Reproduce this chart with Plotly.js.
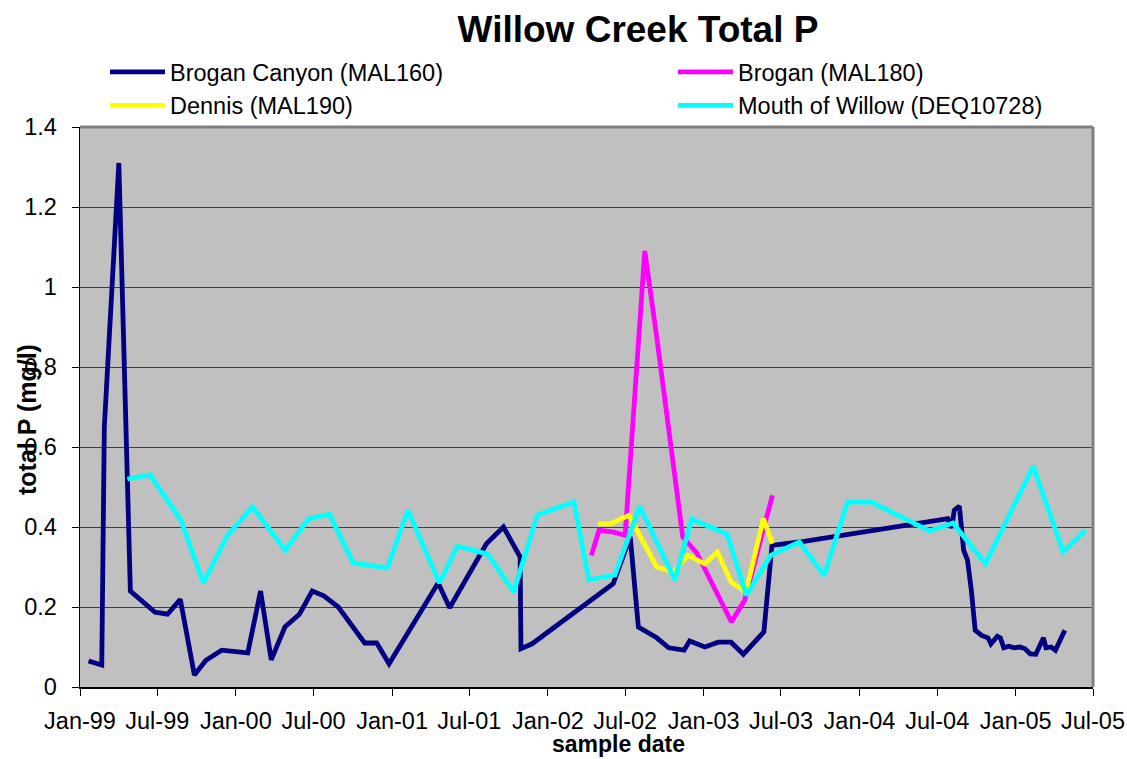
<!DOCTYPE html>
<html>
<head>
<meta charset="utf-8">
<script src="https://cdn.plot.ly/plotly-3.0.1.min.js"></script>
<style>html,body{margin:0;padding:0;background:#fff;}#chart{width:1127px;height:759px;}</style>
</head>
<body>
<div id="chart"></div>
<script>
// Brogan Canyon (MAL160)
const broganCanyonDates = ['1999-01-21','1999-02-21','1999-02-27','1999-04-02','1999-04-29','1999-06-26','1999-07-25','1999-08-24','1999-09-26','1999-10-23','1999-11-29','2000-01-29','2000-02-28','2000-03-24','2000-04-25','2000-05-29','2000-06-28','2000-07-25','2000-08-28','2000-10-29','2000-11-26','2000-12-25','2001-04-19','2001-05-16','2001-08-10','2001-09-19','2001-10-28','2001-10-30','2001-11-25','2002-06-03','2002-07-13','2002-08-01','2002-09-13','2002-10-11','2002-11-16','2002-11-29','2003-01-04','2003-02-04','2003-03-06','2003-04-04','2003-05-22','2003-06-10','2003-08-13','2004-07-26','2004-08-04','2004-08-10','2004-08-22','2004-09-01','2004-09-10','2004-09-19','2004-09-28','2004-10-13','2004-10-28','2004-11-04','2004-11-19','2004-11-26','2004-12-04','2004-12-16','2004-12-28','2005-01-11','2005-01-22','2005-02-04','2005-02-17','2005-02-25','2005-03-07','2005-03-13','2005-03-25','2005-04-04','2005-04-16','2005-04-26'];
const broganCanyonP = [0.065,0.055,0.65,1.31,0.24,0.187,0.182,0.219,0.03,0.067,0.092,0.085,0.24,0.068,0.15,0.182,0.24,0.228,0.2,0.11,0.11,0.058,0.26,0.198,0.358,0.4,0.325,0.096,0.108,0.258,0.375,0.15,0.123,0.098,0.092,0.115,0.1,0.112,0.112,0.082,0.1375,0.354,0.3625,0.421,0.398,0.442,0.452,0.342,0.317,0.242,0.142,0.129,0.123,0.108,0.127,0.123,0.098,0.102,0.098,0.1,0.096,0.083,0.082,0.102,0.123,0.098,0.1,0.092,0.123,0.142];

// Brogan (MAL180)
const broganDates = ['2002-04-13','2002-05-01','2002-06-03','2002-07-01','2002-08-16','2002-09-13','2002-11-13','2002-12-16','2003-03-07','2003-04-07','2003-06-11'];
const broganP = [0.329,0.392,0.3875,0.379,1.09,0.875,0.375,0.335,0.1625,0.217,0.479];

// Dennis (MAL190)
const dennisDates = ['2002-04-29','2002-05-28','2002-07-10','2002-09-13','2002-10-22','2002-11-25','2003-01-04','2003-02-02','2003-03-06','2003-04-10','2003-05-21','2003-06-11'];
const dennisP = [0.408,0.408,0.429,0.3,0.2875,0.329,0.308,0.3375,0.2625,0.2375,0.421,0.358];

// Mouth of Willow (DEQ10728)
const mouthDates = ['1999-04-22','1999-06-14','1999-08-25','1999-10-17','1999-12-13','2000-02-09','2000-04-26','2000-06-19','2000-08-07','2000-10-02','2000-12-21','2001-02-07','2001-04-22','2001-06-03','2001-08-13','2001-10-13','2001-12-07','2002-03-03','2002-04-07','2002-06-07','2002-08-04','2002-10-25','2002-12-04','2003-02-25','2003-04-11','2003-06-07','2003-08-13','2003-10-10','2003-12-04','2004-01-28','2004-06-13','2004-08-07','2004-10-22','2005-02-11','2005-04-22','2005-06-13'];
const mouthP = [0.52,0.53,0.418,0.26,0.38,0.45,0.342,0.42,0.432,0.31,0.298,0.442,0.26,0.352,0.332,0.2375,0.43,0.4625,0.268,0.28,0.452,0.268,0.42,0.382,0.229,0.329,0.3625,0.279,0.4625,0.4625,0.39,0.41,0.308,0.552,0.3375,0.392];

const seriesNames = ['Brogan Canyon (MAL160)','Brogan (MAL180)','Dennis (MAL190)','Mouth of Willow (DEQ10728)'];
const seriesColors = ['#000080','#FF00FF','#FFFF00','#00FFFF'];
const seriesLegend = ['legend','legend2','legend','legend2'];

const FONT = 'Arial, "Liberation Sans", sans-serif';

const traces = [
  {x: broganCanyonDates, y: broganCanyonP},
  {x: broganDates, y: broganP},
  {x: dennisDates, y: dennisP},
  {x: mouthDates, y: mouthP}
].map((d, i) => ({
  type: 'scatter', mode: 'lines', x: d.x, y: d.y, name: seriesNames[i],
  legend: seriesLegend[i],
  line: {color: seriesColors[i], width: 4.8}
}));

const legendBase = {
  orientation: 'v', xref: 'container', yref: 'container', y: 1 - 50/759,
  xanchor: 'left', yanchor: 'top', bgcolor: 'rgba(0,0,0,0)', itemwidth: 55,
  font: {family: FONT, size: 23.5, color: '#000'}, tracegroupgap: 0
};

const layout = {
  width: 1127, height: 759,
  margin: {l: 80, r: 34, t: 127, b: 72, autoexpand: false},
  paper_bgcolor: '#ffffff',
  plot_bgcolor: '#C0C0C0',
  font: {family: FONT, color: '#000', size: 23.5},
  title: {text: '<b>Willow Creek Total P</b>', font: {family: FONT, size: 37, color: '#000'},
          x: 638/1127, xref: 'container', xanchor: 'center', y: 1 - 29/759, yref: 'container', yanchor: 'middle'},
  showlegend: true,
  legend: Object.assign({}, legendBase, {x: 105/1127}),
  legend2: Object.assign({}, legendBase, {x: 673/1127}),
  xaxis: {type: 'date', range: ['1999-01-01','2005-07-01'], dtick: 'M6', tick0: '1999-01-01',
          tickformat: '%b-%y', ticks: 'outside', ticklen: 7, tickcolor: '#000', tickwidth: 1,
          showgrid: false, zeroline: false, showline: true, linecolor: '#000', linewidth: 1.5,
          tickfont: {family: FONT, size: 23.5, color: '#000'}, ticklabelstandoff: 5, fixedrange: true},
  yaxis: {range: [0, 1.4], dtick: 0.2, tick0: 0, ticks: 'outside', ticklen: 7, tickcolor: '#000', tickwidth: 1,
          showgrid: true, gridcolor: '#404040', gridwidth: 1, zeroline: false,
          showline: true, linecolor: '#000', linewidth: 1.5,
          tickfont: {family: FONT, size: 23.5, color: '#000'}, ticklabelstandoff: 10, fixedrange: true},
  shapes: [
    {type: 'line', xref: 'paper', yref: 'paper', x0: 0, x1: 1, y0: 1, y1: 1, line: {color: '#808080', width: 3}},
    {type: 'line', xref: 'paper', yref: 'paper', x0: 1, x1: 1, y0: 0, y1: 1, line: {color: '#808080', width: 3}}
  ],
  annotations: [
    {text: '<b>sample date</b>', xref: 'paper', yref: 'paper', x: (618-80)/1013, y: -(744-687)/560,
     xanchor: 'center', yanchor: 'middle', showarrow: false, borderpad: 0, font: {family: FONT, size: 23, color: '#000'}},
    {text: '<b>total P (mg/l)</b>', xref: 'paper', yref: 'paper', x: (27-80)/1013, y: (687-420)/560,
     xanchor: 'center', yanchor: 'middle', textangle: -90, showarrow: false, font: {family: FONT, size: 25, color: '#000'}}
  ]
};

Plotly.newPlot('chart', traces, layout, {displayModeBar: false, staticPlot: true});
</script>
</body>
</html>
